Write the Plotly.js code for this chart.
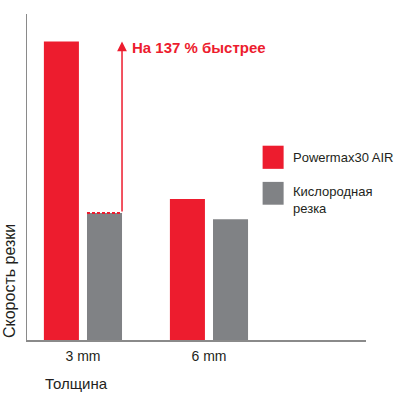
<!DOCTYPE html>
<html>
<head>
<meta charset="utf-8">
<script src="https://cdn.plot.ly/plotly-3.0.1.min.js"></script>
<style>
  html, body { margin: 0; padding: 0; background: #fff; }
  #plot { width: 400px; height: 400px; }
</style>
</head>
<body>
<div id="plot"></div>
<script>
// categories and relative cutting speed (oxy-fuel at 3 mm = 100)
const thickness = ['3 mm', '6 mm'];
const plasmaSpeed = [235, 111];
const oxySpeed = [100, 95];
const seriesNames = ['Powermax30 AIR', 'Кислородная<br>резка'];
const gainText = 'На 137 % быстрее';

const RED = '#ed1c2e';
const GREY = '#808285';
const TXT = '#231f20';

const barW = 0.278;
const redOff = -0.31;
const greyOff = 0.032;

let trace1 = {
  x: [0, 1],
  y: plasmaSpeed,
  type: 'bar',
  name: seriesNames[0],
  width: barW,
  offset: redOff,
  marker: { color: RED },
  hoverinfo: 'skip'
};
let trace2 = {
  x: [0, 1],
  y: oxySpeed,
  type: 'bar',
  name: seriesNames[1],
  width: barW,
  offset: greyOff,
  marker: { color: GREY },
  hoverinfo: 'skip'
};

const arrowX = greyOff + barW;

let layout = {
  width: 400,
  height: 400,
  margin: { l: 27, r: 34, t: 14, b: 60 },
  showlegend: false,
  paper_bgcolor: '#fff',
  plot_bgcolor: '#fff',
  font: { family: 'Arial, Liberation Sans, sans-serif', size: 12, color: TXT },
  xaxis: {
    range: [-0.444, 2.246],
    tickvals: [0, 1],
    ticktext: thickness,
    ticks: '',
    ticklabelstandoff: 3,
    showgrid: false,
    zeroline: false,
    showline: true,
    linecolor: '#8a8a8a',
    linewidth: 1.5,
    tickfont: { size: 14, color: TXT },
    fixedrange: true
  },
  yaxis: {
    range: [0, 256.7],
    showticklabels: false,
    ticks: '',
    showgrid: false,
    zeroline: false,
    showline: true,
    linecolor: '#8a8a8a',
    linewidth: 1.5,
    fixedrange: true
  },
  shapes: [
    // dashed cap on the oxy-fuel bar
    { type: 'line', xref: 'x', yref: 'y', x0: greyOff, x1: arrowX,
      y0: oxySpeed[0], y1: oxySpeed[0], line: { color: RED, width: 2, dash: '3px,2px' } },
    // legend swatches
    { type: 'rect', xref: 'paper', yref: 'paper', x0: 0.695, x1: 0.757, y0: 0.525, y1: 0.596,
      fillcolor: RED, line: { width: 0 } },
    { type: 'rect', xref: 'paper', yref: 'paper', x0: 0.695, x1: 0.757, y0: 0.415, y1: 0.485,
      fillcolor: GREY, line: { width: 0 } }
  ],
  annotations: [
    { x: arrowX, y: plasmaSpeed[0], xref: 'x', yref: 'y',
      ax: arrowX, ay: oxySpeed[0], axref: 'x', ayref: 'y',
      text: '', showarrow: true, arrowhead: 2, arrowsize: 1.3, arrowwidth: 1.5, arrowcolor: RED },
    { x: arrowX, y: plasmaSpeed[0], xref: 'x', yref: 'y', xanchor: 'left', yanchor: 'middle',
      xshift: 8, yshift: -6, showarrow: false, text: gainText,
      font: { size: 15, color: RED, family: 'Arial, Liberation Sans, sans-serif', weight: 'bold' } },
    { x: 0.78, y: 0.56, xref: 'paper', yref: 'paper', xanchor: 'left', yanchor: 'middle',
      showarrow: false, text: seriesNames[0], font: { size: 13, color: TXT } },
    { x: 0.78, y: 0.486, xref: 'paper', yref: 'paper', xanchor: 'left', yanchor: 'top',
      showarrow: false, align: 'left', text: seriesNames[1], font: { size: 13, color: TXT } },
    { x: -0.053, y: 0, xref: 'paper', yref: 'paper', xanchor: 'center', yanchor: 'bottom',
      textangle: -90, showarrow: false, text: 'Скорость резки', font: { size: 16, color: TXT } },
    { x: 0.046, y: -0.133, xref: 'paper', yref: 'paper', xanchor: 'left', yanchor: 'middle',
      showarrow: false, text: 'Толщина', font: { size: 15, color: TXT } }
  ]
};

Plotly.newPlot('plot', [trace1, trace2], layout, { displayModeBar: false, staticPlot: true });
</script>
</body>
</html>
